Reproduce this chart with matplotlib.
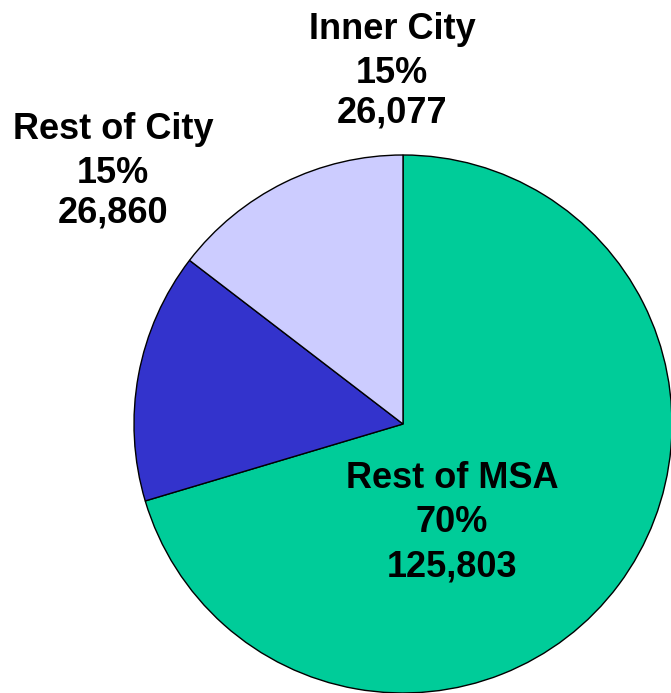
import matplotlib
matplotlib.use("Agg")
import matplotlib.pyplot as plt

categories = ["Rest of MSA", "Rest of City", "Inner City"]
values = [125803, 26860, 26077]
colors = ["#00CC99", "#3333CC", "#CCCCFF"]

W, H = 671, 693
fig = plt.figure(figsize=(W / 100, H / 100), dpi=100)
ax = fig.add_axes([0, 0, 1, 1])

ax.pie(values, colors=colors, startangle=90, counterclock=False,
       center=(403, H - 424), radius=269,
       wedgeprops=dict(edgecolor="black", linewidth=1.0))
ax.set_xlim(0, W)
ax.set_ylim(0, H)
ax.set_aspect("equal")
ax.axis("off")

total = sum(values)
# label x center and baselines of the three lines (pixels from top)
label_pos = {
    "Rest of MSA": (452, [488, 532, 577]),
    "Rest of City": (113, [139, 183, 223]),
    "Inner City": (392, [39, 83, 123]),
}
for cat, val in zip(categories, values):
    x, baselines = label_pos[cat]
    lines = [cat, f"{val / total * 100:.0f}%", f"{val:,}"]
    for t, yb in zip(lines, baselines):
        ax.text(x, H - yb, t, ha="center", va="baseline",
                fontsize=26, fontweight="bold", family="Liberation Sans",
                color="black")

fig.savefig("out.png", dpi=100)
